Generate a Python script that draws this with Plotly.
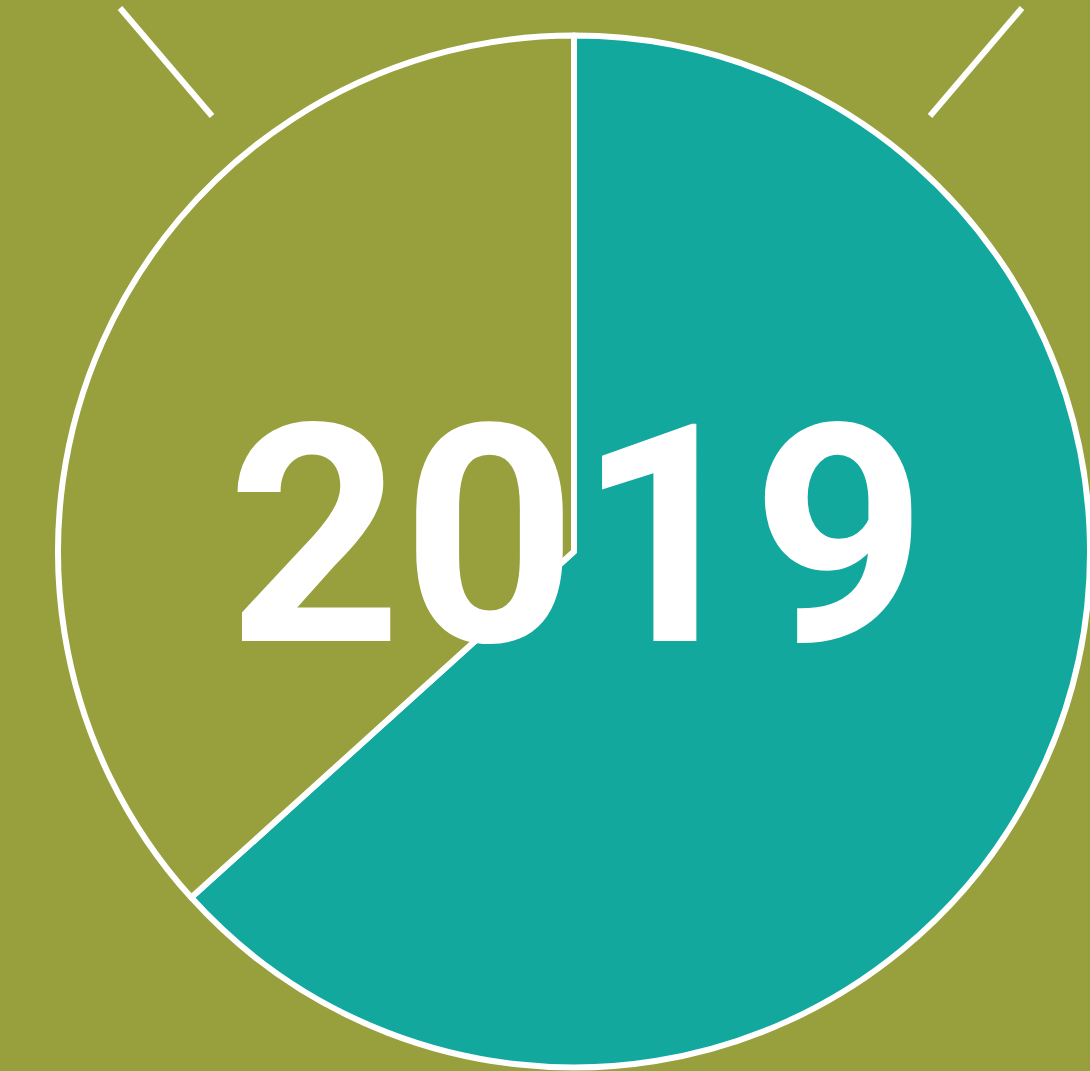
import plotly.graph_objects as go

# Data
labels = ["Teal share", "Olive share"]
values = [63.3, 36.7]
year_label = "2019"

BG = "#98A03E"
TEAL = "#13A89E"
WHITE = "#FFFFFF"

W, H = 1090, 1071

fig = go.Figure()
fig.add_trace(go.Pie(
    labels=labels,
    values=values,
    sort=False,
    direction="clockwise",
    rotation=0,
    marker=dict(colors=[TEAL, BG], line=dict(color=WHITE, width=6)),
    textinfo="none",
    hoverinfo="label+percent",
    showlegend=False,
    domain=dict(x=[58 / W, 1.0], y=[3.5 / H, 1035.5 / H]),
))

fig.add_annotation(
    text=year_label,
    x=577 / W, y=1 - 536 / H, xref="paper", yref="paper",
    xanchor="center", yanchor="middle", showarrow=False,
    font=dict(family="Roboto", size=305, color=WHITE, weight="bold"),
)

# decorative corner strokes
for (x0, y0, x1, y1) in [(120, 8, 212, 116), (1022, 8, 930, 116)]:
    fig.add_shape(type="line", xref="paper", yref="paper",
                  x0=x0 / W, y0=1 - y0 / H, x1=x1 / W, y1=1 - y1 / H,
                  line=dict(color=WHITE, width=6))

fig.update_layout(
    width=W, height=H,
    margin=dict(l=0, r=0, t=0, b=0),
    paper_bgcolor=BG, plot_bgcolor=BG,
)

fig.write_html(
    "out.html",
    config={"displayModeBar": False},
    post_script="document.body.style.margin='0';document.body.style.overflow='hidden';",
)
